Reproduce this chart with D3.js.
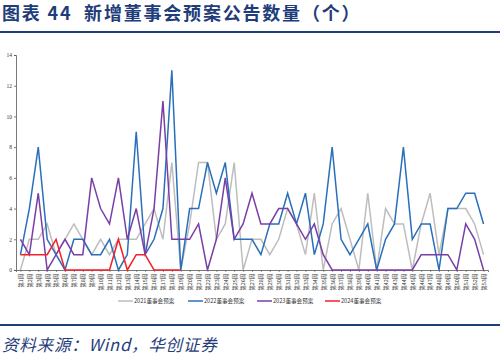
<!DOCTYPE html>
<html>
<head>
<meta charset="utf-8">
<script src="https://cdn.jsdelivr.net/npm/d3@7"></script>
<style>
  html, body { margin: 0; padding: 0; background: #fff; }
  svg { display: block; }
</style>
</head>
<body>
<svg id="chart" width="500" height="358"></svg>
<script>
const titleText = "图表 44  新增董事会预案公告数量（个）";
const sourceText = "资料来源：Wind，华创证券";
const weeks = Array.from({length: 53}, (_, i) => "第" + (i + 1) + "周");
const yTicks = [0, 2, 4, 6, 8, 10, 12, 14];
const seriesNames = ["2021董事会预案", "2022董事会预案", "2023董事会预案", "2024董事会预案"];
const seriesColors = ["#bdbdbd", "#2a6fba", "#7a3fa6", "#f2212b"];
const s2021 = [0,2,2,3,1,2,3,2,1,2,1,2,2,2,3,4,2,7,0,3,7,7,2,3,7,0,2,2,1,2,4,3,1,5,0,3,4,2,0,5,0,4,3,3,0,3,5,1,4,4,4,3,1];
const s2022 = [1,4,8,2,1,0,2,2,1,1,2,0,1,9,1,2,4,13,0,4,4,7,5,7,2,2,2,1,3,3,5,3,5,1,3,8,2,1,2,3,0,2,3,8,2,3,3,0,4,4,5,5,3];
const s2023 = [2,1,5,0,1,2,1,1,6,4,3,6,2,4,1,4,11,2,2,2,3,0,2,6,2,3,5,3,3,4,4,3,2,3,1,0,0,0,0,0,0,0,0,0,0,1,1,1,1,0,3,2,0];
const s2024 = [1,1,1,1,2,0,0,0,0,0,0,2,0,1,1,0,0,0,0];
const allSeries = [s2021, s2022, s2023, s2024];

(function draw() {
const svg = d3.select("#chart");
const navy = "#1f3d7a";

svg.append("text")
  .attr("x", 2).attr("y", 20)
  .attr("font-family", "'Noto Sans CJK SC', sans-serif")
  .attr("font-weight", 700)
  .attr("font-size", 18)
  .attr("letter-spacing", 1.8)
  .attr("fill", navy)
  .attr("xml:space", "preserve")
  .text(titleText);

svg.append("rect").attr("x", 0).attr("y", 31).attr("width", 500).attr("height", 2).attr("fill", navy);

const pLeft = 16, pRight = 488, pTop = 55, pBottom = 270;
const x = d3.scalePoint().domain(weeks).range([pLeft, pRight]).padding(0.5);
const y = d3.scaleLinear().domain([0, 14]).range([pBottom, pTop]);

const yAxis = d3.axisLeft(y).tickValues(yTicks).tickSize(2).tickPadding(2);
const gy = svg.append("g").attr("transform", `translate(${pLeft},0)`).call(yAxis);
gy.selectAll("text").attr("font-size", 5.5).attr("font-family", "'Liberation Serif', serif").attr("fill", "#333");
gy.selectAll("line, path").attr("stroke", "#555").attr("stroke-width", 0.8);

const xAxis = d3.axisBottom(x).tickSize(2).tickPadding(2);
const gx = svg.append("g").attr("transform", `translate(0,${pBottom})`).call(xAxis);
gx.select("path").attr("stroke", "#555").attr("stroke-width", 0.8);
gx.selectAll("line").attr("stroke", "#555").attr("stroke-width", 0.6);
gx.selectAll("text")
  .attr("font-size", 5.3)
  .attr("font-family", "'Noto Sans CJK SC', sans-serif")
  .attr("fill", "#333")
  .attr("text-anchor", "end")
  .attr("dy", "0.35em")
  .attr("transform", "translate(0,2) rotate(-90)")
  .attr("x", -2).attr("y", 0);

const line = d3.line().x((d, i) => x(weeks[i])).y(d => y(d));
allSeries.forEach((s, k) => {
  svg.append("path")
    .datum(s)
    .attr("fill", "none")
    .attr("stroke", seriesColors[k])
    .attr("stroke-width", 1.5)
    .attr("d", line);
});

const legendX = [118, 188, 257, 325];
seriesNames.forEach((name, k) => {
  const g = svg.append("g").attr("transform", `translate(${legendX[k]},301)`);
  g.append("line").attr("x1", 0).attr("x2", 15).attr("y1", 0).attr("y2", 0)
    .attr("stroke", seriesColors[k]).attr("stroke-width", 1.5);
  g.append("text").attr("x", 16).attr("y", 0).attr("dy", "0.35em")
    .attr("font-size", 5.6)
    .attr("font-family", "'Noto Sans CJK SC', sans-serif")
    .attr("fill", "#333")
    .text(name);
});

svg.append("rect").attr("x", 0).attr("y", 324).attr("width", 500).attr("height", 2).attr("fill", navy);

svg.append("text")
  .attr("x", 2).attr("y", 351)
  .attr("font-family", "'Noto Sans CJK SC', sans-serif")
  .attr("font-style", "italic")
  .attr("font-size", 16.5)
  .attr("letter-spacing", 0.8)
  .attr("fill", navy)
  .text(sourceText);
})();
</script>
</body>
</html>
